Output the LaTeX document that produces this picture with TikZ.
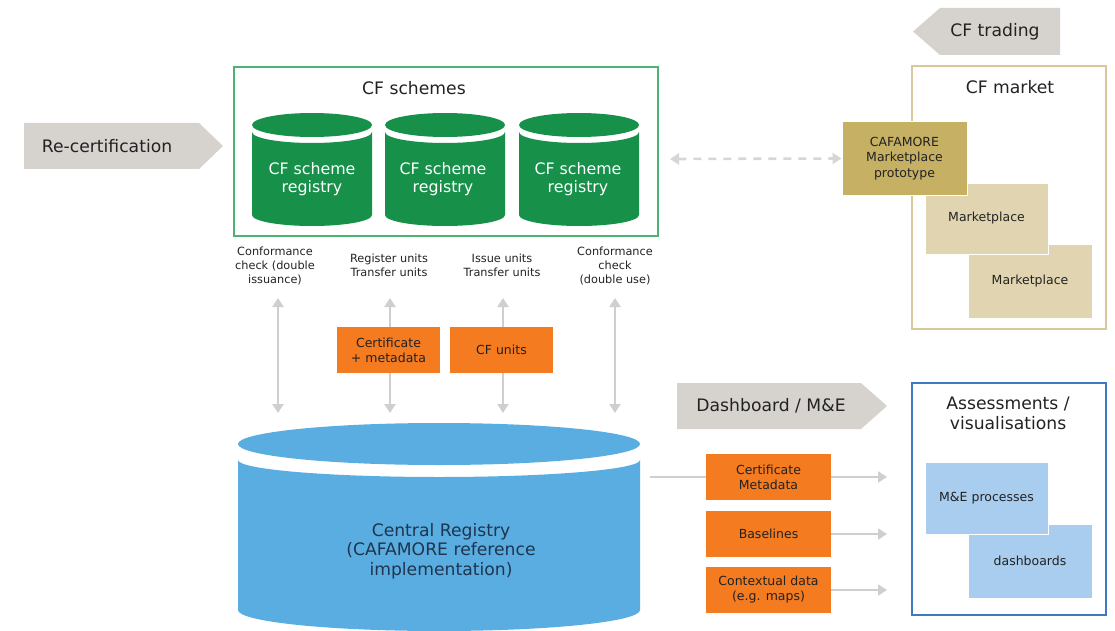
\documentclass[tikz,border=0pt]{standalone}
\usepackage{fontspec}
\setmainfont{DejaVu Sans}
\usetikzlibrary{arrows.meta}

\definecolor{schemegreen}{HTML}{17914A}
\definecolor{boxgreen}{HTML}{4DB370}
\definecolor{regblue}{HTML}{5AADE0}
\definecolor{lightblue}{HTML}{A9CDEE}
\definecolor{frameblue}{HTML}{3C7BBF}
\definecolor{unitorange}{HTML}{F47B20}
\definecolor{chevgray}{HTML}{D6D3CF}
\definecolor{linkgray}{HTML}{CFCFCF}
\definecolor{marketframe}{HTML}{D9C89C}
\definecolor{protogold}{HTML}{C6B064}
\definecolor{markettan}{HTML}{E1D5B1}
\definecolor{inktext}{HTML}{222222}
\definecolor{navytext}{HTML}{1E3550}

\newcommand\fsz[2]{\fontsize{#1}{#2}\selectfont}
% drum: centre x, lid centre y, x radius, lid y radius,
%       body top y at the sides, body top y radius, body bottom y at the sides, bottom y radius, colour
\newcommand\drum[9]{%
  \fill[#9] (#1,#2) ellipse [x radius=#3pt, y radius=#4pt];
  \fill[#9] ({#1-#3},#5) arc[start angle=180, end angle=360, x radius=#3pt, y radius=#6pt]
    -- ({#1+#3},#7) arc[start angle=0, end angle=-180, x radius=#3pt, y radius=#8pt] -- cycle;
}

\tikzset{
  txt/.style={text=inktext, align=center, inner sep=0pt},
  big/.style={txt, font=\fsz{17.2}{20}},
  small/.style={txt, font=\fsz{11.3}{14}},
  unit/.style={fill=unitorange, text=inktext, align=center, font=\fsz{12.5}{15},
    inner sep=0pt, minimum width=#1, minimum height=46pt},
  unit/.default=103pt,
  tile/.style={fill=#1, draw=white, line width=1pt, text=inktext, align=center,
    font=\fsz{12.5}{15.5}, inner sep=0pt},
  cyltext/.style={txt, text=white, font=\fsz{15.8}{18}},
  link/.style={draw=linkgray, line width=2.6pt, -{Triangle[width=11pt,length=9pt]}},
  twoway/.style={draw=linkgray, line width=2.6pt,
    {Triangle[width=11pt,length=9pt]}-{Triangle[width=11pt,length=9pt]}},
  frame/.style={line width=1.5pt},
}

\begin{document}
\begin{tikzpicture}[x=1pt, y=-1pt]
\useasboundingbox (0,0) rectangle (1115,631);

% ---------- chevrons ----------
\fill[chevgray] (24,123) -- (199,123) -- (223,146) -- (199,169) -- (24,169) -- cycle;
\node[big] (recert) at (107,146) {Re-certification};

\fill[chevgray] (1060,8) -- (940,8) -- (913,31.5) -- (940,55) -- (1060,55) -- cycle;
\node[big] (trading) at (995,32) {CF trading};

\fill[chevgray] (677,383) -- (861,383) -- (887,406) -- (861,429) -- (677,429) -- cycle;
\node[big] (dash) at (771,406) {Dashboard / M\&E};

% ---------- CF schemes ----------
\draw[frame, boxgreen] (234,67) rectangle (658,236);
\node[big] (schemes) at (414,88) {CF schemes};
\drum{312}{125}{60}{12}{132}{11}{215}{11}{schemegreen}
\drum{445}{125}{60}{12}{132}{11}{215}{11}{schemegreen}
\drum{579}{125}{60}{12}{132}{11}{215}{11}{schemegreen}
\node[cyltext] (reg1) at (312,179) {CF scheme\\registry};
\node[cyltext] (reg2) at (443,179) {CF scheme\\registry};
\node[cyltext] (reg3) at (578,179) {CF scheme\\registry};

% ---------- operations between registries ----------
\node[small] (op1) at (275,266) {Conformance\\check (double\\issuance)};
\node[small] (op2) at (389,265.5) {Register units\\Transfer units};
\node[small] (op3) at (502,265.5) {Issue units\\Transfer units};
\node[small] (op4) at (615,266) {Conformance\\check\\(double use)};

\coordinate (t1) at (278,298); \coordinate (b1) at (278,413);
\coordinate (t2) at (390,298); \coordinate (b2) at (390,413);
\coordinate (t3) at (503,298); \coordinate (b3) at (503,413);
\coordinate (t4) at (615,298); \coordinate (b4) at (615,413);
\draw[twoway] (t1) -- (b1);
\draw[twoway] (t2) -- (b2);
\draw[twoway] (t3) -- (b3);
\draw[twoway] (t4) -- (b4);

\node[unit] (certmeta) at (388.5,350) {Certificate\\+ metadata};
\node[unit] (cfunits) at (501.5,350) {CF units};

% ---------- central registry ----------
\drum{439}{444}{201}{21}{460}{17}{610}{21}{regblue}
\node[txt, text=navytext, font=\fsz{17.2}{19.5}] (central) at (441,551)
  {Central Registry\\(CAFAMORE reference\\implementation)};

% ---------- CF market ----------
\draw[frame, marketframe] (912,66) rectangle (1106,329);
\node[big] (market) at (1010,87) {CF market};
\node[tile=markettan, minimum width=124pt, minimum height=74pt] (mp2) at (1030,281) {Marketplace};
\node[tile=markettan, minimum width=123pt, minimum height=71pt] (mp1) at (986.5,218.5) {Marketplace};
\node[tile=protogold, minimum width=125pt, minimum height=73pt] (proto) at (904.5,158.5)
  {CAFAMORE\\Marketplace\\prototype};

\coordinate (dl) at (670,159);
\draw[twoway, dash pattern=on 8pt off 7pt, draw=linkgray!85] (dl) -- (proto.west);

% ---------- assessments ----------
\draw[frame, frameblue] (912,383) rectangle (1106,615);
\node[big] (assess) at (1008,413) {Assessments /\\visualisations};
\node[tile=lightblue, minimum width=124pt, minimum height=74pt] (dboards) at (1030,561) {dashboards};
\node[tile=lightblue, minimum width=123pt, minimum height=72pt] (mande) at (986.5,498) {M\&E processes};

% ---------- data feeds ----------
\node[unit=125pt] (feedcm) at (768.5,477) {Certificate\\Metadata};
\node[unit=125pt] (feedbl) at (768.5,534) {Baselines};
\node[unit=125pt] (feedcd) at (768.5,590) {Contextual data\\(e.g. maps)};

\coordinate (tap) at (650,477);
\coordinate (e1) at (887,477);
\coordinate (e2) at (887,534);
\coordinate (e3) at (887,590);
\draw[draw=linkgray, line width=2.6pt] (tap) -- (feedcm.west);
\draw[link] (feedcm.east) -- (e1);
\draw[link] (feedbl.east) -- (e2);
\draw[link] (feedcd.east) -- (e3);
\end{tikzpicture}
\end{document}
